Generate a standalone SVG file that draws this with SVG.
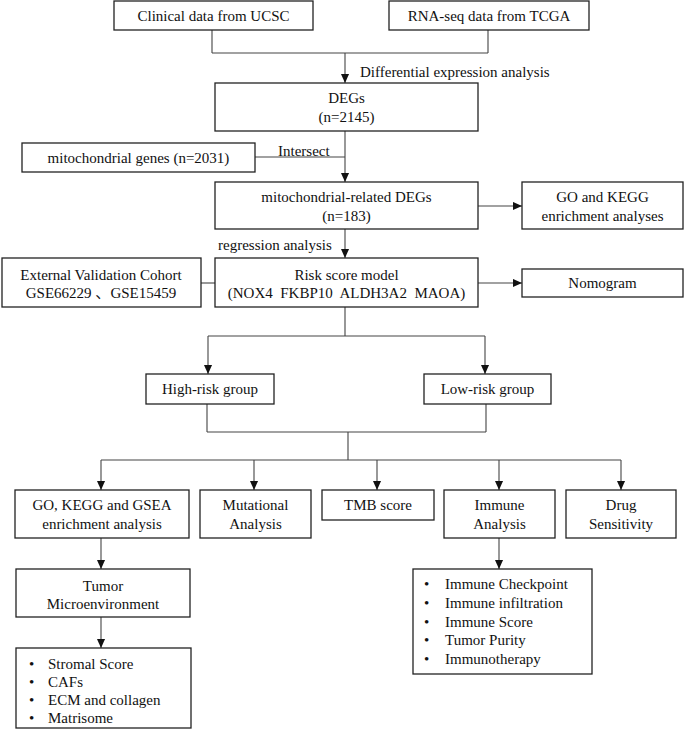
<svg xmlns="http://www.w3.org/2000/svg" width="685" height="734" viewBox="0 0 685 734">
<style>
text{font-family:"Liberation Serif","Times New Roman","DejaVu Serif",serif;font-size:15px;fill:#111;white-space:pre}
.cjk{font-family:"Noto Sans CJK SC","Noto Sans CJK JP",sans-serif}
.c{text-anchor:middle}
rect{fill:#fff;stroke:#222;stroke-width:1.3}
.ln{fill:none;stroke:#444;stroke-width:1.1}
</style>
<defs>
<marker id="ah" viewBox="0 0 10 10" refX="10" refY="5" markerUnits="userSpaceOnUse" markerWidth="10" markerHeight="9" orient="auto">
<path d="M0,0.5 L10,5 L0,9.5 z" fill="#111"/>
</marker>
</defs>
<g id="connectors">
<path class="ln" d="M212,30 V53 M488,30 V53 M212,53 H488"/>
<path class="ln" d="M345,53 V83" marker-end="url(#ah)"/>
<path class="ln" d="M345,131 V182" marker-end="url(#ah)"/>
<path class="ln" d="M255,157 H345"/>
<path class="ln" d="M478,206 H522" marker-end="url(#ah)"/>
<path class="ln" d="M345,229 V258" marker-end="url(#ah)"/>
<path class="ln" d="M201,283 H215"/>
<path class="ln" d="M478,283 H522" marker-end="url(#ah)"/>
<path class="ln" d="M345,307 V336 M208,336 H485"/>
<path class="ln" d="M208,336 V374" marker-end="url(#ah)"/>
<path class="ln" d="M485,336 V374" marker-end="url(#ah)"/>
<path class="ln" d="M207,404 V432 M486,404 V432 M207,432 H486 M348,432 V460 M101,460 H621"/>
<path class="ln" d="M101,460 V490" marker-end="url(#ah)"/>
<path class="ln" d="M254,460 V490" marker-end="url(#ah)"/>
<path class="ln" d="M377,460 V490" marker-end="url(#ah)"/>
<path class="ln" d="M499,460 V490" marker-end="url(#ah)"/>
<path class="ln" d="M621,460 V490" marker-end="url(#ah)"/>
<path class="ln" d="M101,538 V569" marker-end="url(#ah)"/>
<path class="ln" d="M101,617 V648" marker-end="url(#ah)"/>
<path class="ln" d="M499,538 V569" marker-end="url(#ah)"/>
<text x="360" y="77">Differential expression analysis</text>
<text x="278" y="156">Intersect</text>
<text x="218" y="250">regression analysis</text>
</g>
<g id="clinical"><rect x="114" y="1" width="199" height="29"/><text class="c" x="213.5" y="21">Clinical data from UCSC</text></g>
<g id="rnaseq"><rect x="389" y="1" width="200" height="29"/><text class="c" x="489" y="21">RNA-seq data from TCGA</text></g>
<g id="degs"><rect x="215" y="83" width="263" height="48"/><text class="c" x="346.5" y="103">DEGs</text><text class="c" x="346.5" y="122">(n=2145)</text></g>
<g id="mitogenes"><rect x="22" y="143" width="233" height="29"/><text class="c" x="138.5" y="163">mitochondrial genes (n=2031)</text></g>
<g id="mitodegs"><rect x="215" y="182" width="263" height="47"/><text class="c" x="346.5" y="202">mitochondrial-related DEGs</text><text class="c" x="346.5" y="221">(n=183)</text></g>
<g id="gokegg"><rect x="522" y="182" width="161" height="47"/><text class="c" x="602.5" y="202">GO and KEGG</text><text class="c" x="602.5" y="221">enrichment analyses</text></g>
<g id="risk"><rect x="215" y="258" width="263" height="49"/><text class="c" x="346.5" y="280">Risk score model</text><text class="c" x="346.5" y="298">(NOX4  FKBP10  ALDH3A2  MAOA)</text></g>
<g id="external"><rect x="2" y="258" width="199" height="49"/><text class="c" x="101" y="280">External Validation Cohort</text><text class="c" x="101" y="298">GSE66229 <tspan class="cjk">、</tspan>GSE15459</text></g>
<g id="nomogram"><rect x="522" y="269" width="161" height="28"/><text class="c" x="602.5" y="288">Nomogram</text></g>
<g id="high"><rect x="146" y="374" width="128" height="30"/><text class="c" x="210" y="394">High-risk group</text></g>
<g id="low"><rect x="424" y="374" width="127" height="30"/><text class="c" x="487.5" y="394">Low-risk group</text></g>
<g id="gsea"><rect x="15" y="490" width="174" height="48"/><text class="c" x="102" y="510">GO, KEGG and GSEA</text><text class="c" x="102" y="529">enrichment analysis</text></g>
<g id="mutational"><rect x="200" y="490" width="111" height="48"/><text class="c" x="255.5" y="510">Mutational</text><text class="c" x="255.5" y="529">Analysis</text></g>
<g id="tmb"><rect x="322" y="490" width="112" height="30"/><text class="c" x="378" y="510">TMB score</text></g>
<g id="immune"><rect x="444" y="490" width="111" height="48"/><text class="c" x="499.5" y="510">Immune</text><text class="c" x="499.5" y="529">Analysis</text></g>
<g id="drug"><rect x="566" y="490" width="110" height="48"/><text class="c" x="621" y="510">Drug</text><text class="c" x="621" y="529">Sensitivity</text></g>
<g id="tme"><rect x="16" y="569" width="174" height="48"/><text class="c" x="103" y="591">Tumor</text><text class="c" x="103" y="609">Microenvironment</text></g>
<g id="tmelist"><rect x="16" y="648" width="175" height="80"/>
<text x="29" y="669">•</text><text x="48" y="669">Stromal Score</text>
<text x="29" y="687">•</text><text x="48" y="687">CAFs</text>
<text x="29" y="705">•</text><text x="48" y="705">ECM and collagen</text>
<text x="29" y="723">•</text><text x="48" y="723">Matrisome</text>
</g>
<g id="immunelist"><rect x="413" y="569" width="179" height="105"/>
<text x="424" y="589">•</text><text x="445" y="589">Immune Checkpoint</text>
<text x="424" y="608">•</text><text x="445" y="608">Immune infiltration</text>
<text x="424" y="627">•</text><text x="445" y="627">Immune Score</text>
<text x="424" y="645">•</text><text x="445" y="645">Tumor Purity</text>
<text x="424" y="664">•</text><text x="445" y="664">Immunotherapy</text>
</g>
</svg>
